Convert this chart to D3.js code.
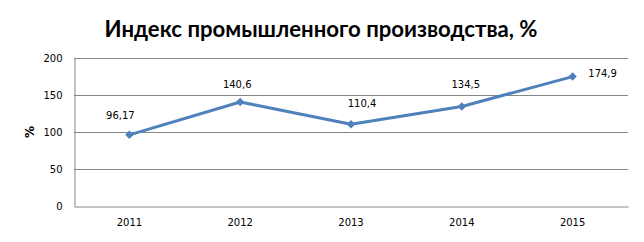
<!DOCTYPE html>
<html><head><meta charset="utf-8">
<script src="https://cdn.jsdelivr.net/npm/d3@7"></script>
<style>body{margin:0;background:#fff}svg{display:block}</style>
</head><body>
<script>
const categories = ["2011","2012","2013","2014","2015"];
const values = [96.17, 140.6, 110.4, 134.5, 174.9];
const valueLabels = ["96,17","140,6","110,4","134,5","174,9"];
const yTicks = [0, 50, 100, 150, 200];
const labelOffsets = [[-9,-16],[-3,-14],[11,-17],[4,-18],[30,0]];

const W = 644, H = 242;
const m = {left:74, right:16, top:58, bottom:36};
const svg = d3.select("body").append("svg").attr("width", W).attr("height", H);

const x = d3.scaleBand().domain(categories).range([m.left, W - m.right]);
const y = d3.scaleLinear().domain([0, 200]).range([H - m.bottom, m.top]);

svg.append("text").attr("x", 321).attr("y", 37).attr("text-anchor","middle")
  .attr("font-family","Lato, 'Open Sans', sans-serif").attr("font-weight","bold")
  .attr("font-size", 22).attr("textLength", 433).attr("lengthAdjust","spacingAndGlyphs")
  .attr("fill","#000").text("Индекс промышленного производства, %");

// gridlines
svg.append("g").selectAll("line").data(yTicks.filter(d=>d>0)).join("line")
  .attr("x1", m.left).attr("x2", W - m.right)
  .attr("y1", d=>y(d)+0.5).attr("y2", d=>y(d)+0.5)
  .attr("stroke","#868686").attr("stroke-width",1);

// y axis
const yAxis = svg.append("g").attr("transform",`translate(${m.left+0.5},0)`)
  .call(d3.axisLeft(y).tickValues(yTicks).tickSize(0).tickPadding(12));
yAxis.select(".domain").attr("stroke","#868686");
yAxis.selectAll("text").attr("font-family","'DejaVu Sans', Verdana, sans-serif").attr("font-size",10).attr("fill","#000");

// x axis
const xAxis = svg.append("g").attr("transform",`translate(0,${y(0)+0.5})`)
  .call(d3.axisBottom(x).tickSize(0).tickPadding(12));
xAxis.select(".domain").attr("stroke","#868686");
xAxis.selectAll("text").attr("font-family","'DejaVu Sans', Verdana, sans-serif").attr("font-size",10).attr("fill","#000");

svg.append("text").attr("transform",`translate(34,${y(100)}) rotate(-90)`)
  .attr("text-anchor","middle").attr("font-family","'DejaVu Sans', Verdana, sans-serif")
  .attr("font-weight","bold").attr("font-size",12).text("%");

const cx = d => x(d) + x.bandwidth()/2;
const line = d3.line().x((d,i)=>cx(categories[i])).y(d=>y(d));
svg.append("path").datum(values).attr("d", line).attr("fill","none")
  .attr("stroke","#4F81BD").attr("stroke-width",3).attr("stroke-linejoin","round");

svg.append("g").selectAll("path").data(values).join("path")
  .attr("d", d3.symbol().type(d3.symbolSquare).size(36))
  .attr("transform",(d,i)=>`translate(${cx(categories[i])},${y(d)}) rotate(45)`)
  .attr("fill","#4F81BD");

svg.append("g").selectAll("text").data(values).join("text")
  .attr("x",(d,i)=>cx(categories[i]) + labelOffsets[i][0])
  .attr("y",(d,i)=>y(d) + labelOffsets[i][1])
  .attr("text-anchor","middle").attr("font-family","'DejaVu Sans', Verdana, sans-serif")
  .attr("font-size",10).attr("fill","#000")
  .text((d,i)=>valueLabels[i]);
</script>
</body></html>
